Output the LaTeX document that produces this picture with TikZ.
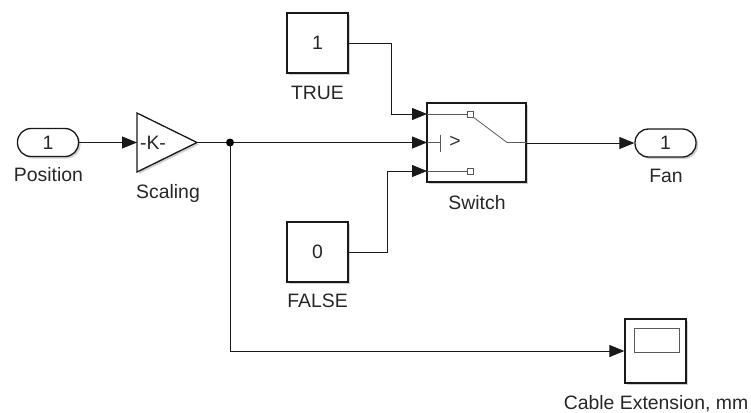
\documentclass[tikz,border=0pt]{standalone}
\usepackage{fontspec}
\setmainfont{Liberation Sans}
\usetikzlibrary{arrows.meta,shadows,calc}
\begin{document}
\begin{tikzpicture}[x=1pt,y=-1pt,
  font=\fontsize{19.4}{23}\selectfont,
  txt/.style={text=black!85},
  blk/.style={draw=black!90,line width=1.3pt,fill=white,inner sep=0pt,text=black!85,
    drop shadow={shadow xshift=2pt,shadow yshift=-2pt,fill=black!30,opacity=0.6}},
  pill/.style={blk,rounded corners=13.5pt,minimum width=61pt,minimum height=28pt},
  cbox/.style={blk,minimum width=61pt,minimum height=60pt},
  lbl/.style={anchor=base,inner sep=0pt,text=black!85},
  sig/.style={draw=black!90,line width=0.9pt},
  arr/.style={sig,-{Triangle[length=15pt,width=12pt]}},
  inner/.style={draw=black!65,line width=0.8pt},
]
\useasboundingbox (0,0) rectangle (751,412);

% blocks
\node[pill] (pos) at (48,142.5) {1};
\node[lbl] (posl) at (48.5,181) {Position};

% gain triangle
\fill[black!30,opacity=0.6] (139,115) -- (139,174) -- (199,144.5) -- cycle;
\draw[fill=white,draw=black!90,line width=1.3pt,line join=miter] (137,113) -- (137,172) -- (197,142.5) -- cycle;
\coordinate (gin) at (137,142.5);
\coordinate (gout) at (197,142.5);
\node[inner sep=0pt,text=black!85] (gk) at (153,142.5) {-K-};
\node[lbl] (gl) at (168,198) {Scaling};

\node[cbox] (c1) at (317.5,43) {1};
\node[lbl] (c1l) at (317.5,99) {TRUE};
\node[cbox] (c0) at (317.5,252) {0};
\node[lbl] (c0l) at (317.5,307) {FALSE};

\node[blk,minimum width=99pt,minimum height=79pt] (sw) at (476.5,142.5) {};
\node[lbl] (swl) at (477,209) {Switch};
\coordinate (s1) at (427,114);
\coordinate (s2) at (427,142.5);
\coordinate (s3) at (427,171);

\node[pill] (fan) at (665.5,143) {1};
\node[lbl] (fanl) at (666,182) {Fan};

\node[blk,minimum width=61pt,minimum height=64pt] (sc) at (655.5,351) {};
\draw[inner] (634,328) rectangle (679,352);
\node[lbl] (scl) at (656,409) {Cable Extension, mm};

% switch internals
\draw[inner] (s1) -- (467,114);
\draw[inner] (467,111) rectangle (473,117);
\draw[inner] (473,117) -- (507,142.5) -- (sw.east);
\draw[inner] (s2) -- (440,142.5);
\draw[inner] (440,134.5) -- (440,151.5);
\node[inner sep=0pt,text=black!80] (gt) at (455,141.5) {>};
\draw[inner] (s3) -- (467,171);
\draw[inner] (467,168) rectangle (473,174);

% connectors
\coordinate (j) at (230,142.5);
\draw[arr] (pos.east) -- (gin);
\draw[arr] (gout) -- (s2);
\fill[black] (j) circle (4pt);
\draw[arr] (j) |- (sc.west);
\draw[arr] (c1.east) -- ++(43,0) |- (s1);
\draw[arr] (c0.east) -- ++(39,0) |- (s3);
\draw[arr] (sw.east |- fan.west) -- (fan.west);
\end{tikzpicture}
\end{document}
